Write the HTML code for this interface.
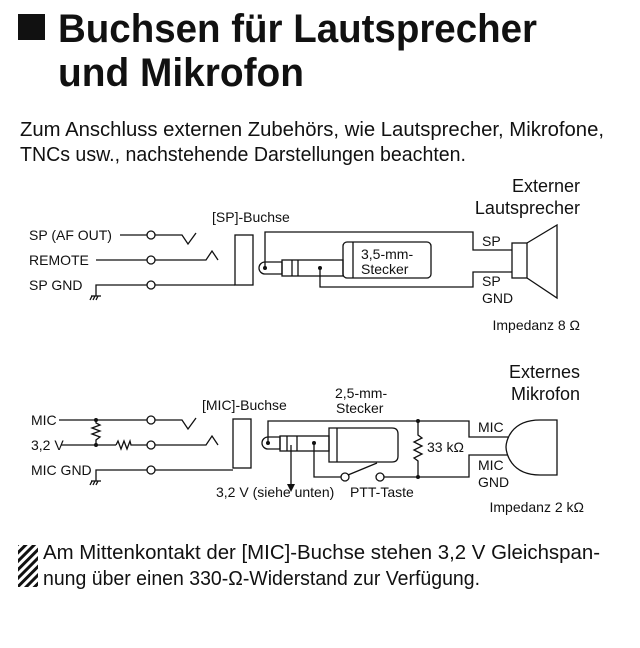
<!DOCTYPE html>
<html><head><meta charset="utf-8"><style>
html,body{margin:0;padding:0;background:#fff;}
svg{display:block;}
text{font-family:"Liberation Sans",Arial,sans-serif;fill:#111;}
</style></head><body>
<svg width="640" height="648" viewBox="0 0 640 648" xmlns="http://www.w3.org/2000/svg">
<defs>
<pattern id="h" width="6" height="6" patternUnits="userSpaceOnUse" patternTransform="rotate(45)">
<rect width="3" height="6" fill="#111"/></pattern>
</defs>
<rect x="18" y="14" width="27" height="26" fill="#111"/>
<text x="58" y="42" font-size="40" font-weight="bold" textLength="479" lengthAdjust="spacingAndGlyphs">Buchsen für Lautsprecher</text>
<text x="58" y="86" font-size="40" font-weight="bold" textLength="246" lengthAdjust="spacingAndGlyphs">und Mikrofon</text>
<text x="20" y="136" font-size="20" textLength="584" lengthAdjust="spacingAndGlyphs">Zum Anschluss externen Zubehörs, wie Lautsprecher, Mikrofone,</text>
<text x="20" y="161" font-size="20" textLength="446" lengthAdjust="spacingAndGlyphs">TNCs usw., nachstehende Darstellungen beachten.</text>

<g stroke="#111" stroke-width="1.3" fill="none">
<line x1="120" y1="235" x2="147" y2="235"/><circle cx="151" cy="235" r="4" fill="#fff"/>
<polyline points="155,235 182,235 188,244 196,233"/>
<line x1="96" y1="260" x2="147" y2="260"/><circle cx="151" cy="260" r="4" fill="#fff"/>
<polyline points="155,260 206,260 212,251 218,260"/>
<polyline points="96,296 96,285 147,285"/><circle cx="151" cy="285" r="4" fill="#fff"/>
<line x1="155" y1="285" x2="235" y2="285"/>
<line x1="91" y1="296" x2="101" y2="296"/><line x1="92" y1="296" x2="90" y2="300"/><line x1="95" y1="296" x2="93" y2="300"/><line x1="98" y1="296" x2="96" y2="300"/>
<rect x="235" y="235" width="18" height="50"/>
<polyline points="265,268 265,232 473,232 473,250 512,250"/>
<polyline points="320,268 320,287 473,287 473,272 512,272"/>
<path d="M265,262 L282,262 L282,274 L265,274 A6,6 0 0 1 265,262 Z"/>
<rect x="282" y="260" width="61" height="16"/>
<line x1="292" y1="260" x2="292" y2="276"/><line x1="298" y1="260" x2="298" y2="276"/>
<rect x="343" y="242" width="88" height="36" rx="4"/>
<line x1="353" y1="242" x2="353" y2="278"/>
<rect x="512" y="243" width="15" height="35"/>
<polyline points="527,243 557,225 557,298 527,278"/>
<line x1="59" y1="420" x2="147" y2="420"/><circle cx="151" cy="420" r="4" fill="#fff"/>
<polyline points="155,420 182,420 188,429 196,418"/>
<line x1="61" y1="445" x2="116" y2="445"/>
<polyline points="116,445 118,441 121,449 124,441 127,449 130,441 131,445 147,445"/>
<circle cx="151" cy="445" r="4" fill="#fff"/>
<polyline points="155,445 206,445 212,436 218,445"/>
<polyline points="96,420 96,423 100,425 92,428 100,431 92,434 100,437 96,440 96,445"/>
<polyline points="96,481 96,470 147,470"/><circle cx="151" cy="470" r="4" fill="#fff"/>
<line x1="155" y1="470" x2="233" y2="470"/>
<line x1="91" y1="481" x2="101" y2="481"/><line x1="92" y1="481" x2="90" y2="485"/><line x1="95" y1="481" x2="93" y2="485"/><line x1="98" y1="481" x2="96" y2="485"/>
<rect x="233" y="419" width="18" height="49"/>
<polyline points="268,443 268,421 469,421 469,437 508,437"/>
<path d="M268,437 L280,437 L280,449 L268,449 A6,6 0 0 1 268,437 Z"/>
<rect x="280" y="436" width="49" height="15"/>
<line x1="287" y1="436" x2="287" y2="451"/><line x1="297" y1="436" x2="297" y2="451"/>
<path d="M329,428 L392,428 Q398,428 398,434 L398,456 Q398,462 392,462 L329,462 Z"/>
<line x1="337" y1="428" x2="337" y2="462"/>
<line x1="291" y1="445" x2="291" y2="485"/>
<polyline points="314,443 314,477 341,477"/>
<circle cx="345" cy="477" r="4" fill="#fff"/><circle cx="380" cy="477" r="4" fill="#fff"/>
<line x1="348" y1="475" x2="377" y2="463"/>
<polyline points="384,477 469,477 469,455 508,455"/>
<polyline points="418,421 418,435 422,438 414,442 422,446 414,450 422,454 414,458 418,461 418,477"/>
<path d="M557,420 L557,475 L540,475 C510,475 506,452 506,447 C506,442 510,420 540,420 Z"/>
</g>
<g fill="#111">
<circle cx="265" cy="268" r="2"/><circle cx="320" cy="268" r="2"/>
<circle cx="268" cy="443" r="2"/><circle cx="314" cy="443" r="2"/>
<circle cx="96" cy="420" r="2"/><circle cx="96" cy="445" r="2"/>
<circle cx="418" cy="421" r="2"/><circle cx="418" cy="477" r="2"/>
<polygon points="287,484 295,484 291,492"/>
</g>
<g font-size="14">
<text x="29" y="240">SP (AF OUT)</text>
<text x="29" y="265">REMOTE</text>
<text x="29" y="290">SP GND</text>
<text x="212" y="222">[SP]-Buchse</text>
<text x="361" y="259">3,5-mm-</text>
<text x="361" y="274">Stecker</text>
<text x="482" y="246">SP</text>
<text x="482" y="286">SP</text>
<text x="482" y="303">GND</text>
<text x="580" y="330" text-anchor="end">Impedanz 8 Ω</text>
<text x="31" y="425">MIC</text>
<text x="31" y="450">3,2 V</text>
<text x="31" y="475">MIC GND</text>
<text x="202" y="410">[MIC]-Buchse</text>
<text x="335" y="398">2,5-mm-</text>
<text x="336" y="413">Stecker</text>
<text x="427" y="452">33 kΩ</text>
<text x="478" y="432">MIC</text>
<text x="478" y="470">MIC</text>
<text x="478" y="487">GND</text>
<text x="216" y="497">3,2 V (siehe unten)</text>
<text x="350" y="497">PTT-Taste</text>
<text x="584" y="512" text-anchor="end">Impedanz 2 kΩ</text>
</g>
<g font-size="18">
<text x="580" y="192" text-anchor="end">Externer</text>
<text x="580" y="214" text-anchor="end">Lautsprecher</text>
<text x="580" y="378" text-anchor="end">Externes</text>
<text x="580" y="400" text-anchor="end">Mikrofon</text>
</g>
<rect x="18" y="545" width="20" height="42" fill="url(#h)"/>
<text x="43" y="559" font-size="20" textLength="557" lengthAdjust="spacingAndGlyphs">Am Mittenkontakt der [MIC]-Buchse stehen 3,2 V Gleichspan-</text>
<text x="43" y="585" font-size="20" textLength="437" lengthAdjust="spacingAndGlyphs">nung über einen 330-Ω-Widerstand zur Verfügung.</text>
</svg>
</body></html>
